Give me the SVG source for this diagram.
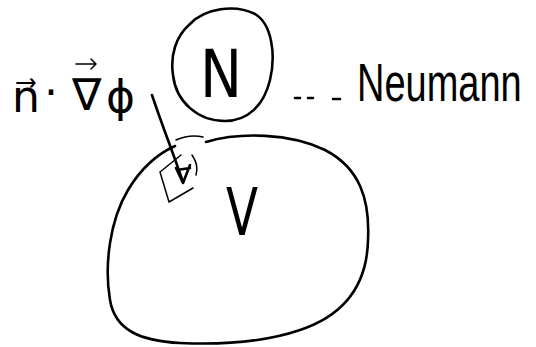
<svg xmlns="http://www.w3.org/2000/svg" width="536" height="347" viewBox="0 0 536 347">
<style>
.ink{fill:none;stroke:#000;stroke-width:2.6;stroke-linecap:round;stroke-linejoin:round}
.thin{fill:none;stroke:#000;stroke-width:1.5;stroke-linecap:round;stroke-linejoin:round}
.t{font-family:"DejaVu Sans","Liberation Sans",sans-serif;fill:#000}
</style>
<rect width="536" height="347" fill="#fff"/>
<g id="node-N">
<path class="ink" d="M190,24 C205,8 235,4 255,14 C272,24 276,55 270,80 C264,105 248,121 225,121 C198,121 176,102 173,75 C170,55 176,36 190,24 Z"/>
<text class="t" x="221" y="97" font-size="66" text-anchor="middle" textLength="42" lengthAdjust="spacingAndGlyphs">N</text>
</g>
<g id="node-V">
<path class="ink" d="M206,142 C240,132 290,133 325,150 C360,168 370,200 368,240 C367,285 345,315 300,330 C265,342 225,345 180,343 C140,341 115,330 110,300 C104,265 110,220 128,190 C140,170 155,155 175,146"/>
<path class="thin" d="M176,140 C185,136 195,135 203,137"/>
<text class="t" x="242" y="235" font-size="66" text-anchor="middle" textLength="32" lengthAdjust="spacingAndGlyphs">V</text>
<path class="thin" d="M181,155 L160,172 L169,202 L193,188 M192,155 C197,162 198,168 196,175"/>
</g>
<g id="label-flux">
<text class="t" font-size="44"><tspan x="12" y="112">n&#x20D7;</tspan><tspan x="44" y="108">·</tspan><tspan x="72" y="110">∇</tspan><tspan x="106" y="112">ϕ</tspan></text>
<path class="thin" stroke-width="2" d="M76,64 L96,64 M91,59 L96,64 L91,69"/>
</g>
<g id="label-neumann">
<text transform="translate(357,101) scale(1,1.4)" x="0" y="0" font-family="'Liberation Sans',Arial,sans-serif" font-size="38" fill="#000">Neumann</text>
</g>
<g id="connectors">
<path class="ink" d="M152,95 C162,125 172,150 183,182"/>
<path class="ink" d="M176,168 L183,183 L190,165 M177,170 L190,168"/>
<path class="ink" d="M295,98 L300,98 M308,98 L313,98 M333,99 L340,99"/>
</g>
</svg>
